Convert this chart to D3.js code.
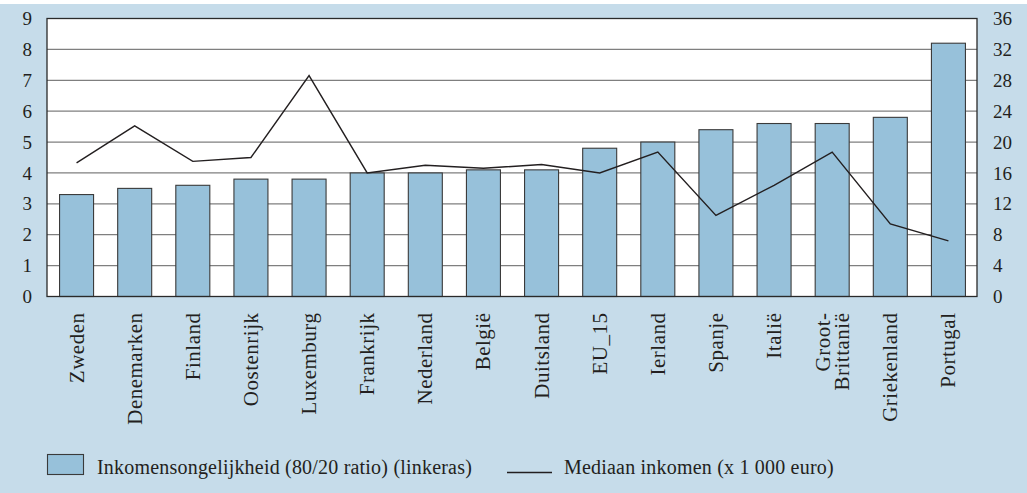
<!DOCTYPE html>
<html>
<head>
<meta charset="utf-8">
<script src="https://cdn.jsdelivr.net/npm/d3@7"></script>
<style>
  html, body { margin: 0; padding: 0; background: #ffffff; }
  svg { display: block; }
  text { font-family: "Liberation Serif", "Times New Roman", serif; fill: #231f20; }
</style>
</head>
<body>
<svg id="chart" width="1027" height="493"></svg>
<script>
// ---- data ----
const categories = ["Zweden", "Denemarken", "Finland", "Oostenrijk", "Luxemburg", "Frankrijk",
  "Nederland", "België", "Duitsland", "EU_15", "Ierland", "Spanje", "Italië",
  "Groot-\nBrittanië", "Griekenland", "Portugal"];
const inequality = [3.3, 3.5, 3.6, 3.8, 3.8, 4.0, 4.0, 4.1, 4.1, 4.8, 5.0, 5.4, 5.6, 5.6, 5.8, 8.2];
const medianIncome = [17.3, 22.1, 17.5, 18.0, 28.6, 16.0, 17.0, 16.6, 17.1, 16.0, 18.7, 10.5, 14.4, 18.7, 9.4, 7.2];
const leftTicks = [0, 1, 2, 3, 4, 5, 6, 7, 8, 9];
const rightTicks = [0, 4, 8, 12, 16, 20, 24, 28, 32, 36];
const legendBar = "Inkomensongelijkheid (80/20 ratio) (linkeras)";
const legendLine = "Mediaan inkomen (x 1 000 euro)";

// ---- layout ----
const W = 1027, H = 493;
const plot = { left: 47, right: 977, top: 18.5, bottom: 296.5 };
const bg = "#c6dcea", barFill = "#97c1da", barStroke = "#3a3a3a";

const svg = d3.select("#chart");
svg.append("rect").attr("x", 0).attr("y", 4).attr("width", W).attr("height", H - 4).attr("fill", bg);
svg.append("rect").attr("x", plot.left).attr("y", plot.top)
  .attr("width", plot.right - plot.left).attr("height", plot.bottom - plot.top).attr("fill", "#ffffff");

const x = d3.scaleBand().domain(categories).range([plot.left, plot.right]).paddingInner(0.415).paddingOuter(0.2075);
const yL = d3.scaleLinear().domain([0, 9]).range([plot.bottom, plot.top]);
const yR = d3.scaleLinear().domain([0, 36]).range([plot.bottom, plot.top]);

// gridlines
svg.append("g").selectAll("line").data(leftTicks.filter(d => d > 0 && d < 9)).join("line")
  .attr("x1", plot.left).attr("x2", plot.right)
  .attr("y1", d => yL(d)).attr("y2", d => yL(d))
  .attr("stroke", "#7f7f7f").attr("stroke-width", 1.3);

// bars
svg.append("g").selectAll("rect").data(categories).join("rect")
  .attr("x", d => x(d) + 0.5)
  .attr("y", (d, i) => yL(inequality[i]))
  .attr("width", x.bandwidth())
  .attr("height", (d, i) => plot.bottom - yL(inequality[i]))
  .attr("fill", barFill).attr("stroke", barStroke).attr("stroke-width", 1.1);

// line
const line = d3.line().x((d, i) => x(categories[i]) + x.bandwidth() / 2 + 0.5).y(d => yR(d));
svg.append("path").datum(medianIncome).attr("d", line)
  .attr("fill", "none").attr("stroke", "#231f20").attr("stroke-width", 1.4);

// plot border
svg.append("rect").attr("x", plot.left).attr("y", plot.top)
  .attr("width", plot.right - plot.left).attr("height", plot.bottom - plot.top)
  .attr("fill", "none").attr("stroke", "#2a2a2a").attr("stroke-width", 1.3);

// left axis
const axL = svg.append("g").attr("transform", `translate(${plot.left},0)`)
  .call(d3.axisLeft(yL).tickValues(leftTicks).tickSize(0).tickPadding(15).tickFormat(d3.format("d")));
axL.select(".domain").remove();
axL.selectAll("text").style("font-size", "19px").attr("fill", "#231f20");

// right axis
const axR = svg.append("g").attr("transform", `translate(${plot.right},0)`)
  .call(d3.axisRight(yR).tickValues(rightTicks).tickSize(0).tickPadding(16).tickFormat(d3.format("d")));
axR.select(".domain").remove();
axR.selectAll("text").style("font-size", "19px").attr("fill", "#231f20");

// category labels
const axB = svg.append("g").attr("transform", `translate(0.5,${plot.bottom})`)
  .call(d3.axisBottom(x).tickSize(0).tickFormat(""));
axB.select(".domain").remove();
const labels = svg.append("g");
categories.forEach(c => {
  const lines = c.split("\n");
  const cx = x(c) + x.bandwidth() / 2 + 0.5;
  const n = lines.length;
  lines.forEach((t, j) => {
    const off = (j - (n - 1) / 2) * 19;
    labels.append("text")
      .attr("transform", `translate(${cx + off},${plot.bottom + 16}) rotate(-90)`)
      .attr("text-anchor", "end").attr("dy", "0.33em")
      .style("font-size", "21px").style("letter-spacing", "0.5px").text(t);
  });
});

// legend
const lg = svg.append("g");
lg.append("rect").attr("x", 47.5).attr("y", 454.5).attr("width", 36).attr("height", 20)
  .attr("fill", barFill).attr("stroke", barStroke).attr("stroke-width", 1.1);
lg.append("text").attr("x", 97).attr("y", 474).style("font-size", "20px").style("letter-spacing", "0.2px").text(legendBar);
lg.append("line").attr("x1", 507).attr("x2", 552).attr("y1", 472.5).attr("y2", 472.5)
  .attr("stroke", "#231f20").attr("stroke-width", 1.4);
lg.append("text").attr("x", 564).attr("y", 474).style("font-size", "20px").style("letter-spacing", "0.2px").text(legendLine);
</script>
</body>
</html>
